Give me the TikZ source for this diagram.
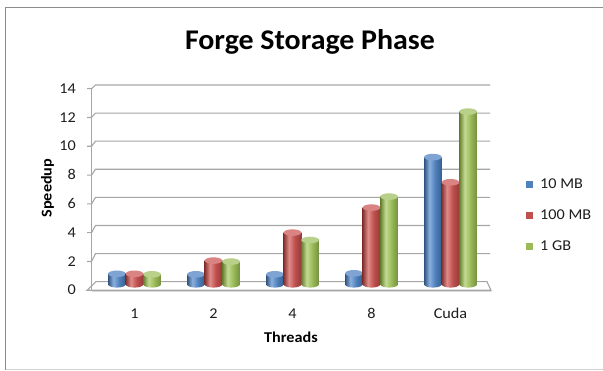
\documentclass[tikz,border=0pt]{standalone}
\usepackage{fontspec}
\setmainfont{Carlito}
\newfontfamily\titlefont[FakeStretch=1.05]{Carlito}
\newfontfamily\axisfont[FakeStretch=1.08]{Carlito}

% series colours
\definecolor{bDark}{HTML}{30547F}
\definecolor{bLight}{HTML}{8CB0DE}
\definecolor{bMid}{HTML}{4F81BD}
\definecolor{bEdge}{HTML}{36608F}
\definecolor{bCap}{HTML}{7FA4D4}
\definecolor{rDark}{HTML}{863432}
\definecolor{rLight}{HTML}{E08C8A}
\definecolor{rMid}{HTML}{C0504D}
\definecolor{rEdge}{HTML}{923C3A}
\definecolor{rCap}{HTML}{D98482}
\definecolor{gDark}{HTML}{66802F}
\definecolor{gLight}{HTML}{C3DA93}
\definecolor{gMid}{HTML}{9BBB59}
\definecolor{gEdge}{HTML}{748F3F}
\definecolor{gCap}{HTML}{B9D08A}
\definecolor{gridgray}{HTML}{A6A6A6}
\definecolor{framegray}{HTML}{8C8C8C}
\definecolor{labelgray}{HTML}{1E1E1E}

% cylinder body shadings (the path's box maps onto 25bp..75bp)
\pgfdeclarehorizontalshading{barblue}{100bp}{color(0bp)=(bDark); color(25bp)=(bDark); color(40bp)=(bLight); color(56bp)=(bMid); color(75bp)=(bEdge); color(100bp)=(bEdge)}
\pgfdeclarehorizontalshading{barred}{100bp}{color(0bp)=(rDark); color(25bp)=(rDark); color(40bp)=(rLight); color(56bp)=(rMid); color(75bp)=(rEdge); color(100bp)=(rEdge)}
\pgfdeclarehorizontalshading{bargreen}{100bp}{color(0bp)=(gDark); color(25bp)=(gDark); color(40bp)=(gLight); color(56bp)=(gMid); color(75bp)=(gEdge); color(100bp)=(gEdge)}

% one cylinder: centre x, top edge y, body shading, cap colour
\newcommand\cylbar[4]{%
  \shade[shading=#3] (#1,284.3) ellipse[x radius=8.8pt, y radius=3.3pt];
  \shade[shading=#3] ({#1-8.8},284.3) rectangle ({#1+8.8},{#2+3.3});
  \fill[#4] (#1,{#2+3.3}) ellipse[x radius=8.8pt, y radius=3.3pt];
}

\tikzset{
  gridline/.style={draw=gridgray, line width=1.1pt},
  framel/.style={draw=framegray, line width=1pt},
  ticklabel/.style={font=\axisfont\fontsize{15}{18}\selectfont, text=labelgray, inner sep=0pt},
  axistitle/.style={font=\axisfont\bfseries\fontsize{15}{18}\selectfont, text=black, inner sep=0pt},
  legendtext/.style={font=\axisfont\fontsize{15}{18}\selectfont, text=labelgray, inner sep=0pt, anchor=base west},
}

\begin{document}
\begin{tikzpicture}[x=1pt, y=-1pt]
\useasboundingbox (0,0) rectangle (603,371);
\fill[white] (0,0) rectangle (603,371);

% chart frame
\draw[framel] (610,7.5) -- (5.5,7.5) -- (5.5,370);
\draw[draw=black!18, line width=1pt] (5.5,370) -- (610,370);

% title
\node[font=\titlefont\bfseries\fontsize{28.5}{32}\selectfont, anchor=base, inner sep=0pt] (title) at (310,50) {Forge Storage Phase};

% back-wall gridlines with their front ticks and value labels
\foreach \v in {2,4,...,14} {
  \pgfmathsetmacro\yf{290.3-14.4*\v}
  \pgfmathsetmacro\yb{281.7-14.05*\v}
  \draw[gridline] (87,\yf) -- (91.5,\yf) -- (95.5,\yb) -- (490,\yb);
  \node[ticklabel, anchor=base east] (ylab\v) at (76,{\yf+4.6}) {\v};
}
\node[ticklabel, anchor=base east] (ylab0) at (76,294.9) {0};

% value axis
\draw[gridline] (91.5,290.3) -- (91.5,{290.3-14.4*14});

% floor
\draw[gridline] (87,290.3) -- (491,290.3) -- (487,281.7) -- (96,281.7) -- cycle;
\draw[draw=black!15, line width=1pt] (91.5,291.8) -- (491,291.8);

% bars: group centres 134.5 + 79*i, series offsets -17.6 / 0 / +17.6
\foreach \i/\tb/\tr/\tg in {0/270.5/270.5/271, 1/271/257.3/258.3, 2/271/229.3/236.7, 3/270/204.3/193.3, 4/153.8/179/108.3} {
  \pgfmathsetmacro\cx{134.5+79*\i}
  \pgfmathsetmacro\xb{\cx-17.6}
  \pgfmathsetmacro\xg{\cx+17.6}
  \cylbar{\xb}{\tb}{barblue}{bCap}
  \cylbar{\cx}{\tr}{barred}{rCap}
  \cylbar{\xg}{\tg}{bargreen}{gCap}
}

% category labels
\foreach \i/\t in {0/1, 1/2, 2/4, 3/8, 4/Cuda} {
  \node[ticklabel, anchor=base] (xlab\i) at ({134.5+79*\i},318.3) {\t};
}

% axis titles
\node[axistitle, anchor=base] (xtitle) at (291,342.7) {Threads};
\node[axistitle, rotate=90] (ytitle) at (47.5,188) {Speedup};

% legend
\fill[bMid] (525.7,180.7) rectangle (533.3,188.3);
\fill[rMid] (525.7,211.7) rectangle (533.3,219.3);
\fill[gMid] (525.7,242.7) rectangle (533.3,250.3);
\node[legendtext] (leg1) at (540,189) {10 MB};
\node[legendtext] (leg2) at (540,220) {100 MB};
\node[legendtext] (leg3) at (540,250.3) {1 GB};
\end{tikzpicture}
\end{document}
